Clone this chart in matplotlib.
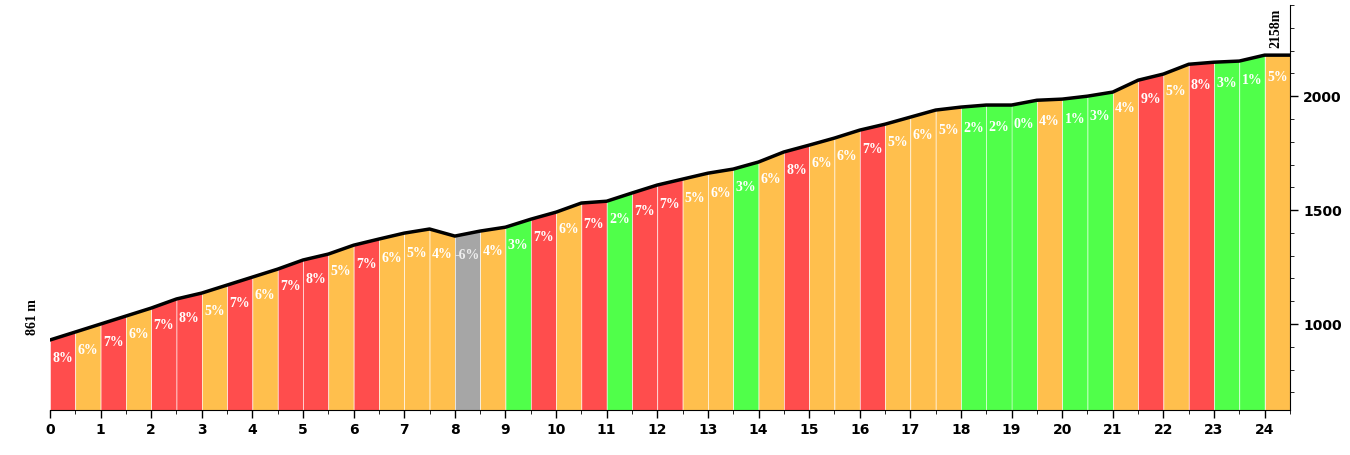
import matplotlib
matplotlib.use("Agg")
import matplotlib.pyplot as plt
from matplotlib.ticker import MultipleLocator

# distance (km) and elevation (m) at every 0.5 km
km = [i * 0.5 for i in range(50)]
elev = [930, 965, 1000, 1035, 1070, 1110, 1136, 1171, 1206, 1241,
        1281, 1307, 1346, 1373, 1399, 1417, 1386, 1408, 1425, 1460,
        1491, 1531, 1539, 1575, 1610, 1636, 1662, 1680, 1711, 1755,
        1785, 1816, 1851, 1877, 1908, 1939, 1952, 1961, 1961, 1982,
        1987, 2000, 2018, 2070, 2097, 2140, 2149, 2154, 2180, 2180]
# gradient per 0.5 km segment (%)
grades = [8, 6, 7, 6, 7, 8, 5, 7, 6, 7, 8, 5, 7, 6, 5, 4, -6, 4, 3, 7,
          6, 7, 2, 7, 7, 5, 6, 3, 6, 8, 6, 6, 7, 5, 6, 5, 2, 2, 0, 4,
          1, 3, 4, 9, 5, 8, 3, 1, 5]
start_label = "861 m"
end_label = "2158m"
ymin, ymax = 623, 2400


def grade_color(g):
    if g < 0:
        return "#a6a6a6"
    if g <= 3:
        return "#50ff4a"
    if g <= 6:
        return "#ffbf4d"
    return "#ff4d4d"


fig = plt.figure(figsize=(13.5, 4.55), dpi=100)
ax = fig.add_axes([0.037, 0.099, 0.9185, 0.89])

for i, g in enumerate(grades):
    x0, x1 = km[i], km[i + 1]
    ax.fill_between([x0, x1], [elev[i], elev[i + 1]], ymin,
                    color=grade_color(g), edgecolor="white", linewidth=0.4)
    ax.annotate(f"{g}%", ((x0 + x1) / 2, (elev[i] + elev[i + 1]) / 2),
                xytext=(0, -16), textcoords="offset points", ha="center", va="center",
                color="#eeeeee" if g < 0 else "white", fontsize=10, fontweight="bold",
                family="Liberation Serif")

ax.plot(km, elev, color="black", linewidth=2.5, solid_capstyle="round")

ax.text(-0.35, elev[0] + 20, start_label, rotation=90, ha="center", va="bottom",
        fontsize=10, fontweight="bold", family="Liberation Serif")
ax.text(km[-1] - 0.28, elev[-1] + 30, end_label, rotation=90, ha="center", va="bottom",
        fontsize=10, fontweight="bold", family="Liberation Serif")

ax.set_xlim(0, km[-1])
ax.set_ylim(ymin, ymax)
ax.xaxis.set_major_locator(MultipleLocator(1))
ax.xaxis.set_minor_locator(MultipleLocator(0.5))
ax.yaxis.set_major_locator(MultipleLocator(500))
ax.yaxis.set_minor_locator(MultipleLocator(100))
ax.yaxis.tick_right()
for s in ["left", "top"]:
    ax.spines[s].set_visible(False)
ax.tick_params(labelsize=10, width=1)
for lbl in ax.get_xticklabels() + ax.get_yticklabels():
    lbl.set_fontweight("bold")
    lbl.set_family("DejaVu Sans")
ax.tick_params(axis="both", which="major", length=6)
ax.tick_params(axis="both", which="minor", length=3)

fig.savefig("out.png", dpi=100)
